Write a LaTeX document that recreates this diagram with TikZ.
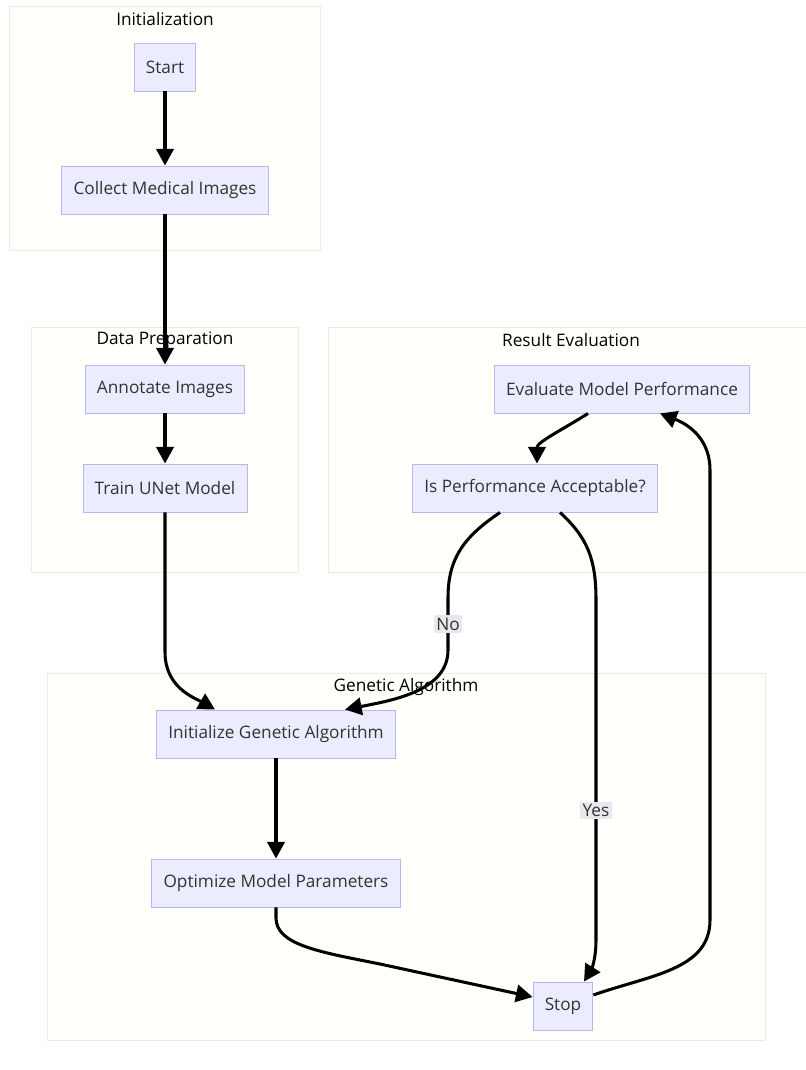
\documentclass[tikz,border=0pt]{standalone}
\usepackage{fontspec}
\setmainfont{Open Sans}
\usetikzlibrary{arrows.meta,calc}
\definecolor{boxfill}{HTML}{ECECFF}
\definecolor{boxline}{HTML}{BDB5F0}
\definecolor{grpfill}{HTML}{FFFFFB}
\definecolor{grpline}{HTML}{ECECDA}
\definecolor{txt}{HTML}{333333}
\definecolor{lblfill}{HTML}{E8E8EE}

\begin{document}
\begin{tikzpicture}[x=0.03cm,y=-0.03cm,
  box/.style={draw=boxline,fill=boxfill,text=txt,line width=0.8pt,minimum height=1.44cm,inner xsep=0.35cm,font=\fontsize{14.7}{17}\selectfont},
  grp/.style={draw=grpline,fill=grpfill,line width=0.8pt},
  title/.style={text=black,font=\fontsize{14.7}{17}\selectfont},
  flow/.style={line width=2.6pt,-{Triangle[length=0.5cm,width=0.52cm]}},
  lbl/.style={fill=lblfill,text=txt,inner sep=2pt,font=\fontsize{14.7}{17}\selectfont}]
  \useasboundingbox (0,0) rectangle (805,1070);
  \fill[white] (0,0) rectangle (805,1070);
  \draw[grp] (9,6) rectangle (320,250);
  \draw[grp] (31,327) rectangle (298,572);
  \draw[grp] (328,327) rectangle (812,572);
  \draw[grp] (47,673) rectangle (765,1040);
  \node[title] (tinit) at (165,19) {Initialization};
  \node[title] (tprep) at (165,340) {Data Preparation};
  \node[title] (teval) at (571,340) {Result Evaluation};
  \node[title] (tga) at (406,687) {Genetic Algorithm};
  \node[box] (start) at (165,67) {Start};
  \node[box] (collect) at (165,190) {Collect Medical Images};
  \node[box] (annotate) at (165,389) {Annotate Images};
  \node[box] (train) at (165,488) {Train UNet Model};
  \node[box] (eval) at (622,389) {Evaluate Model Performance};
  \node[box] (accept) at (535,488) {Is Performance Acceptable?};
  \node[box] (initga) at (276,734) {Initialize Genetic Algorithm};
  \node[box] (optim) at (276,883) {Optimize Model Parameters};
  \node[box] (stop) at (563,1006) {Stop};
  \draw[flow] (start) -- (collect);
  \draw[flow] (collect) -- (annotate);
  \draw[flow] (annotate) -- (train);
  \draw[flow] (train.south) -- (165,652) .. controls (165,688) and (195,698) .. ($(initga.north)+(-61,0)$);
  \draw[flow] (initga) -- (optim);
  \draw[flow] ($(eval.south)+(-34,0)$) .. controls (562,430) and (537,442) .. ($(accept.north)+(2,0)$);
  \draw[flow] ($(accept.south)+(-35,0)$) .. controls (462,538) and (448,560) .. (448,598) -- node[lbl] {No} (448,650) .. controls (448,690) and (395,700) .. ($(initga.north)+(69,0)$);
  \draw[flow] ($(accept.south)+(25,0)$) .. controls (588,538) and (596,560) .. (596,600) -- node[lbl,pos=0.62] {Yes} (596,940) .. controls (596,962) and (590,972) .. ($(stop.north)+(21,0)$);
  \draw[flow] (optim.south) -- (276,918) .. controls (276,945) and (320,952) .. (380,964) -- ($(stop.west)+(0,-9)$);
  \draw[flow] ($(stop.east)+(0,-11)$) .. controls (650,975) and (710,970) .. (710,920) -- (710,470) .. controls (710,440) and (690,425) .. ($(eval.south)+(38,0)$);
\end{tikzpicture}
\end{document}
